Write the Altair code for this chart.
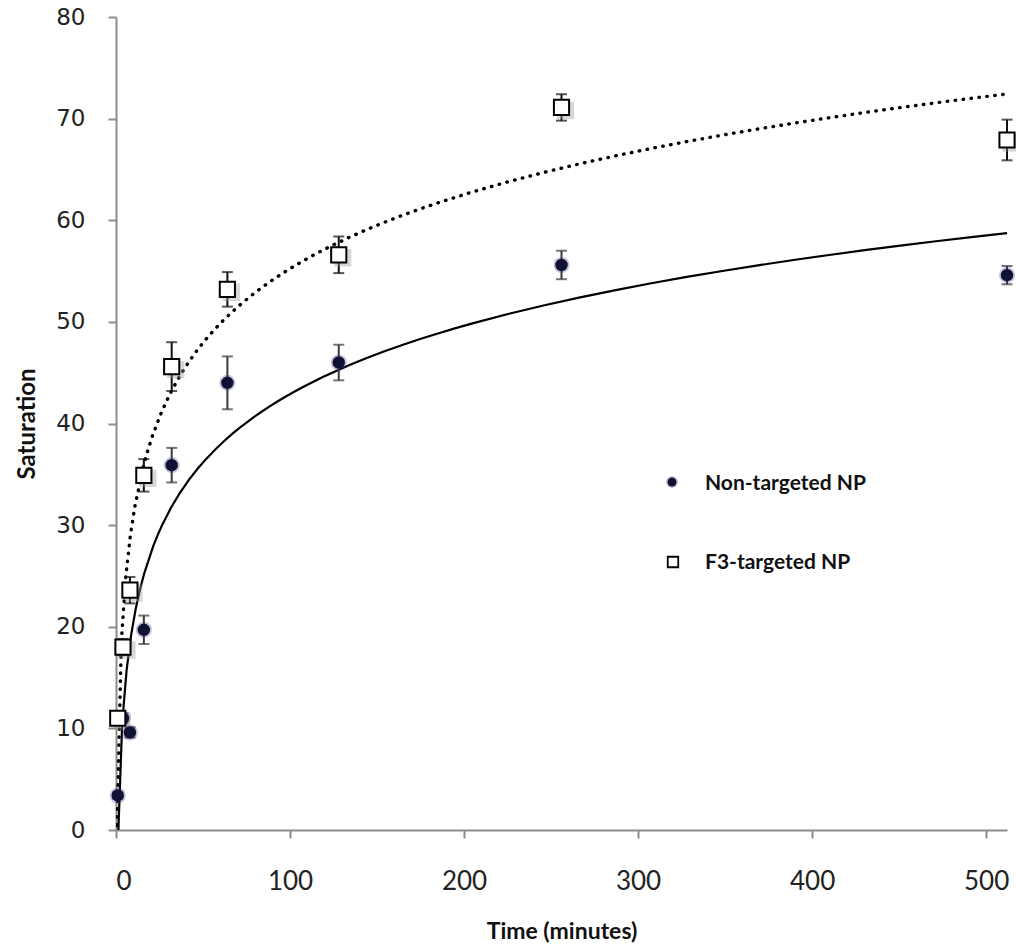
import altair as alt
import pandas as pd

# ---- data ----
time_min = [1, 4, 8, 16, 32, 64, 128, 256, 512]
non_targeted = [3.4, 11.0, 9.6, 19.7, 35.9, 44.0, 46.0, 55.6, 54.6]
non_targeted_err = [0.3, 0.5, 0.5, 1.4, 1.7, 2.6, 1.75, 1.4, 0.9]
f3_targeted = [11.0, 18.0, 23.6, 34.9, 45.6, 53.2, 56.6, 71.1, 67.9]
f3_targeted_err = [0.5, 0.8, 1.3, 1.6, 2.4, 1.7, 1.8, 1.3, 2.0]
series_names = ["Non-targeted NP", "F3-targeted NP"]
x_ticks = [0, 100, 200, 300, 400, 500]
y_ticks = [0, 10, 20, 30, 40, 50, 60, 70, 80]

rows = []
for t, v, e in zip(time_min, non_targeted, non_targeted_err):
    rows.append({"time": t, "value": v, "err": e, "series": series_names[0]})
for t, v, e in zip(time_min, f3_targeted, f3_targeted_err):
    rows.append({"time": t, "value": v, "err": e, "series": series_names[1]})
df = pd.DataFrame(rows)

xs = alt.Scale(domain=[0, 512], nice=False)
ys = alt.Scale(domain=[0, 80], nice=False)

base = alt.Chart(df).transform_calculate(
    lo="datum.value - datum.err", hi="datum.value + datum.err"
)

X = alt.X("time:Q", scale=xs,
          axis=alt.Axis(title="Time (minutes)", values=x_ticks))
Y = alt.Y("value:Q", scale=ys,
          axis=alt.Axis(title="Saturation", values=y_ticks))

fit_non = base.transform_filter(
    alt.datum.series == series_names[0]
).transform_regression(
    "time", "value", method="log", extent=[1, 512]
).mark_line(color="black", strokeWidth=2.2, clip=True).encode(x=X, y=Y)

fit_f3 = base.transform_filter(
    alt.datum.series == series_names[1]
).transform_regression(
    "time", "value", method="log", extent=[0.51, 512]
).mark_line(color="black", strokeWidth=3.4, strokeDash=[0.5, 7.5],
            strokeCap="round", clip=True).encode(x=X, y=Y)

err_color = alt.Color("series:N", legend=None,
                      scale=alt.Scale(domain=series_names,
                                      range=["#3a3a3a", "#111111"]))

err_rule = base.mark_rule(strokeWidth=2).encode(
    x="time:Q", y="lo:Q", y2="hi:Q", color=err_color)
err_lo = base.mark_tick(orient="horizontal", size=11, thickness=2).encode(
    x="time:Q", y="lo:Q", color=err_color)
err_hi = base.mark_tick(orient="horizontal", size=11, thickness=2).encode(
    x="time:Q", y="hi:Q", color=err_color)

halo = base.transform_filter(
    alt.datum.series == series_names[0]
).mark_circle(size=260, color="#3c3c90", opacity=0.3).encode(x="time:Q", y="value:Q")

shadow = base.transform_filter(
    alt.datum.series == series_names[1]
).mark_point(shape="square", filled=True, size=300, color="#9a9a9a",
             opacity=0.4, xOffset=4, yOffset=3).encode(x="time:Q", y="value:Q")

points = base.mark_point(strokeWidth=2, opacity=1).encode(
    x="time:Q", y="value:Q",
    shape=alt.Shape("series:N", legend=None,
                    scale=alt.Scale(domain=series_names, range=["circle", "square"])),
    fill=alt.Fill("series:N", legend=None,
                  scale=alt.Scale(domain=series_names, range=["#111133", "white"])),
    stroke=alt.Stroke("series:N", legend=None,
                      scale=alt.Scale(domain=series_names, range=["#111133", "black"])),
    size=alt.Size("series:N", legend=None,
                  scale=alt.Scale(domain=series_names, range=[110, 230])),
)

# ---- legend (drawn as marks, positioned inside the plot) ----
leg_df = pd.DataFrame({"series": series_names})
leg_base = alt.Chart(leg_df)
leg_halo = leg_base.transform_filter(alt.datum.series == series_names[0]).mark_circle(
    size=150, color="#3c3c90", opacity=0.3
).encode(x=alt.value(556), y=alt.value(465))
leg_circle = leg_base.transform_filter(alt.datum.series == series_names[0]).mark_point(
    shape="circle", filled=True, size=80, color="#111133", opacity=1
).encode(x=alt.value(556), y=alt.value(465))
leg_square = leg_base.transform_filter(alt.datum.series == series_names[1]).mark_point(
    shape="square", filled=True, size=110, fill="white", stroke="black",
    strokeWidth=1.8, opacity=1
).encode(x=alt.value(557), y=alt.value(545))
leg_text1 = leg_base.transform_filter(alt.datum.series == series_names[0]).mark_text(
    align="left", baseline="middle", font="Lato", fontWeight="bold",
    fontSize=21, color="#111111"
).encode(x=alt.value(589), y=alt.value(467), text="series:N")
leg_text2 = leg_base.transform_filter(alt.datum.series == series_names[1]).mark_text(
    align="left", baseline="middle", font="Lato", fontWeight="bold",
    fontSize=21, color="#111111"
).encode(x=alt.value(589), y=alt.value(546), text="series:N")

chart = alt.layer(
    fit_f3, fit_non, err_rule, err_lo, err_hi, halo, shadow, points,
    leg_halo, leg_circle, leg_square, leg_text1, leg_text2
).properties(
    width=891, height=813,
    autosize=alt.AutoSizeParams(type="none"),
    padding={"left": 116, "top": 17, "right": 9, "bottom": 117},
).configure_view(stroke=None).configure_axis(
    grid=False,
    domainColor="#8c8c8c", domainWidth=2,
    tickColor="#8c8c8c", tickWidth=2, tickSize=8,
    labelColor="#222222", titleColor="#111111",
    titleFont="Lato", titleFontWeight="bold",
).configure_axisX(
    labelFont="Lato", labelFontSize=26, labelPadding=30,
    titleFontSize=23, titlePadding=26,
).configure_axisY(
    labelFont="DejaVu Sans", labelFontSize=23, labelPadding=23,
    titleFontSize=24, titlePadding=16,
)

chart.save("out.html", embed_options={"renderer": "svg", "actions": False})
